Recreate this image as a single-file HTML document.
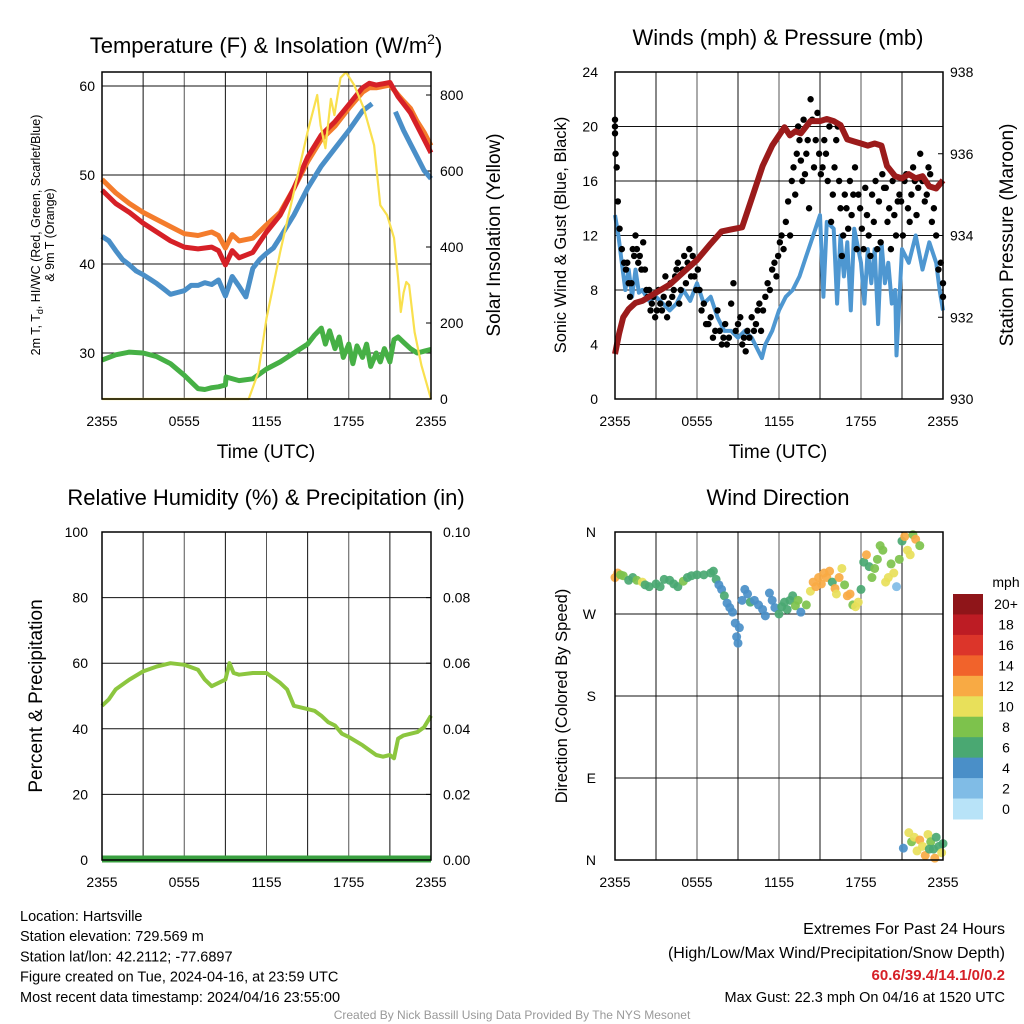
<!DOCTYPE html>
<html><head><meta charset="utf-8"><style>
body{margin:0;background:#fff}
svg{display:block;font-family:"Liberation Sans",sans-serif}
</style></head><body>
<svg id="s" width="1024" height="1024" viewBox="0 0 1024 1024"></svg>
<script>
// ---------- data ----------
const xTickLabels=["2355","0555","1155","1755","2355"];
const tempLeftTicks=[30,40,50,60];
const solarTicks=[0,200,400,600,800];
const windTicks=[0,4,8,12,16,20,24];
const presTicks=[930,932,934,936,938];
const rhTicks=[0,20,40,60,80,100];
const precipTicks=["0.00","0.02","0.04","0.06","0.08","0.10"];
const dirTicks=["N","E","S","W","N"];
const redH=[0,1,2,3,4,5,6,7,8,8.5,9,9.5,10,11,12,13,14,15,16,17,18,19,19.5,20,21,21.6,22,22.5,23,23.5,24];
const redV=[48.3,46.8,45.8,44.6,43.6,42.6,41.9,41.7,41.9,41.5,39.9,41.5,40.7,41.3,43.6,45.5,48.5,52,54.5,56,57.9,59.8,60.3,60.1,60.4,58.8,58,57,55.5,54,52.5];
const orangeV=[49.5,48,46.8,45.8,45,44.2,43.4,43.2,43.6,43.2,41.8,43.3,42.6,42.9,44.4,45.8,48.5,51.5,54,55.5,57.5,59.3,59.8,59.8,60.1,59,58.3,57.5,56,54.8,53.3];
const blueH=[0,0.5,1,1.5,2,2.5,3,3.5,4,4.5,5,5.5,6,6.5,7,7.5,8,8.5,9,9.5,10,10.5,11,11.5,12,12.5,13,14,15,16,17,18,19,19.7,20.5,21.4,22,22.5,23,23.5,24];
const blueV=[43.1,42.6,41.5,40.5,39.9,39.2,38.8,38.3,37.8,37.2,36.6,36.8,37,37.6,37.6,37.9,37.7,38.2,36.4,38.6,37.5,36.3,39.5,40.5,41.2,41.8,43,45.5,48.5,51,53,55,57.2,58,null,57.1,55,53.5,52,50.5,49.6];
const greenH=[0,1,2,3,4,5,6,7,7.5,8,8.5,9,9.05,10,11,12,13,14,15,15.5,16,16.3,16.6,17,17.3,17.6,18,18.3,18.6,19,19.3,19.6,20,20.3,20.6,21,21.3,21.6,22,22.5,23,23.5,24];
const greenV=[29.2,29.8,30.1,30,29.6,28.8,27.5,26,25.9,26.1,26.2,26.4,27.3,26.9,27.1,28.2,29,30,31,32,32.8,31,32.5,30.5,31.8,29.5,31,28.8,30.8,29.5,31,28.5,30,29,30.5,29,31.5,31.8,31.2,30.5,30,30.2,30.4];
const solarH=[0,10.7,11.4,12,13,14,15,15.7,15.95,16.3,16.7,16.95,17.4,17.8,18.4,19.1,19.85,20.3,20.8,21.3,21.6,21.8,22.0,22.2,22.4,22.8,23.3,24];
const solarV=[0,0,70,212,387,545,703,800,720,660,790,747,845,860,826,765,668,510,484,424,318,229,280,308,300,176,89,0];
const windH=[0,0.25,0.5,0.75,1,1.25,1.5,1.75,2,2.5,3,3.5,4,4.5,5,5.5,6,6.5,7,7.5,8,8.5,9,9.5,10,10.5,10.75,11,11.5,12,12.5,13,13.5,14,14.5,15,15.25,15.5,16,16.25,16.5,16.75,17,17.25,17.5,18,18.25,18.5,18.75,19,19.25,19.5,19.75,20,20.25,20.5,20.6,21,21.5,22,22.5,23,23.5,23.75,24];
const windV=[13.5,12,10,8,9.5,7.5,9.5,7.8,8,7.2,7.5,7,6.5,7,8,7.2,8.5,7,7.5,6,5,5,4.5,5,4.5,3.5,3,4,5,6.5,7.5,8,9,10.5,12,13.5,7.5,13,12.5,7,12,9,11.5,6.5,12.5,10,7,11,8.5,11,5.5,11.5,8.5,10,7,8,3.2,11,10,12,9.5,11.5,10,8,6.5];
const presH=[0,0.3,0.6,1,1.5,2,3,4,5,6,7,7.8,8.5,9.3,10,10.8,11.5,12.4,12.8,13.2,13.6,14.3,15,15.5,16,16.5,17,17.5,18,18.5,19,19.5,19.9,20.5,21,21.5,22,22.5,23,23.5,24];
const presV=[931.1,931.6,932.0,932.2,932.35,932.4,932.6,932.8,933.1,933.4,933.8,934.1,934.15,934.2,934.9,935.7,936.2,936.65,936.45,936.55,936.5,936.8,936.8,936.85,936.8,936.7,936.35,936.3,936.25,936.2,936.25,936.2,935.7,935.45,935.4,935.5,935.4,935.45,935.2,935.15,935.35];
const gustGroups=[[20,20.5,19.5,18,17,14.5],[12.5,11,10],[9.5,10,8.5,7.5,8.5],[11,10.5,12,11,10],[10.5,9.5,11.5,9.5],[8,7.5,8,6.5,7],[7.5,6,6.5,8],[7,6.5,7.5,9],[6,7,8.5,7.5],[8,9,9.5,10,7],[8,9.5,10.5,8.5],[10,11,9,10.5],[9,8,9.5,8],[6.5,7,5.5],[5.5,6,4.5],[5,6.5,5],[4,4.5,5.5,4],[4.5,7,8.5],[5,5.5,6],[4,4.5,3.5,5],[4.5,6,5],[5.5,6.5,7,5],[6.5,7.5,8.5],[8,9.5,10],[9,10.5,11.5,12],[11,13,14.5],[12,16,17,15],[18,20,19,17.5,16],[20.5,16.5,18,19,14],[22,20.5,17,19],[21,18,16.5,17],[19,18,16,20],[13,15,17,19],[20,16,14,10.5,12],[15,14,12.5,16],[13.5,15,17,11],[15,14,12.5,11],[15.5,13.5,12,10.5],[15,13,16,11],[14.5,11.5,16.5,15.5],[15.5,13,14,11],[16,13.5,12,14.5],[15,14.5,12,16],[16.5,14,13,15],[17,16,13.5,15.5],[18,16,14.5],[15,17,16.5,13],[14,12,9.5],[10,8.5,7.5]];
const rhH=[0,0.5,1,2,3,4,5,6,7,7.5,8,8.5,9,9.3,9.6,10,11,12,12.5,13,13.5,14,15,15.5,16,16.5,17,17.5,18,19,19.5,20,20.5,21,21.3,21.6,22,23,23.5,24];
const rhV=[47,49,52,55,57.5,59,60,59.5,58,55,53,54,55,60,57,56.5,57,57,55.5,54,52,47,46,45.5,44,42,41,38.5,37.5,35,33.5,32,31.5,32,31,37,38,39,40.5,44];
const dirH=[0,0.2,0.4,0.6,1,1.3,1.6,2,2.2,2.5,3,3.3,3.6,4,4.3,4.6,5,5.3,5.6,6,6.5,7,7.2,7.4,7.6,7.8,8,8.2,8.4,8.6,8.8,8.9,9,9.1,9.3,9.5,9.7,9.9,10.2,10.5,10.8,11,11.3,11.5,11.7,12,12.2,12.4,12.6,12.8,13,13.2,13.4,13.6,14,14.3,14.5,14.7,14.9,15.1,15.3,15.5,15.7,15.9,16.1,16.2,16.4,16.6,16.8,17,17.2,17.4,17.6,17.8,18,18.2,18.4,18.6,18.8,19,19.2,19.4,19.6,19.8,20,20.2,20.4,20.6,20.8,21,21.2,21.4,21.6,21.8,22,22.3,21.1,21.5,21.7,21.9,22.1,22.3,22.5,22.7,22.9,23.1,23.3,23.5,23.7,23.9,24,23.0,23.4];
const dirV=[310,315,313,312,307,310,307,305,302,300,303,300,308,307,303,300,306,310,312,313,313,315,317,308,302,297,290,282,277,272,260,245,238,255,285,297,292,283,285,280,275,268,293,285,277,270,278,283,275,285,290,279,285,272,280,295,305,300,310,303,315,310,317,305,298,292,310,320,302,290,292,280,278,283,297,327,335,322,310,320,330,345,340,305,310,325,315,300,330,350,355,340,335,357,352,345,13,30,20,25,10,22,15,5,28,20,12,25,15,8,18,12,2,0];
const dirS=[12,12,9,8,7,7,8,10,7,7,6,6,6,6,6,7,8,7,7,7,6,6,6,6,4,4,6,4,4,4,4,4,4,4,4,4,4,6,4,4,4,4,4,4,4,6,6,6,6,6,6,8,8,4,8,10,12,12,12,12,12,13,12,6,12,10,12,10,8,12,12,8,10,10,6,6,12,6,8,8,8,8,8,10,10,8,10,2,8,6,12,10,10,8,12,8,4,10,8,10,10,12,10,12,10,8,6,6,6,10,6,6,12,10];
const cbLabels=["20+","18","16","14","12","10","8","6","4","2","0"];
const cbColors=["#8f1519","#bd1c24","#dc352a","#f1632b","#f8aa44","#e8e05a","#7dc24c","#4aa872","#4a8fc8","#80bce6","#b8e3f8"];
// ---------- helpers ----------
const NS="http://www.w3.org/2000/svg",S=document.getElementById('s');
function mk(t,a,p){const e=document.createElementNS(NS,t);for(const k in a)e.setAttribute(k,a[k]);(p||S).appendChild(e);return e;}
function txt(x,y,s,size,anchor,extra){const e=mk('text',Object.assign({x:x,y:y,'font-size':size,'text-anchor':anchor||'middle',fill:'#000'},extra||{}));e.textContent=s;return e;}
function lin(d0,d1,r0,r1){return v=>r0+(v-d0)/(d1-d0)*(r1-r0);}
function pathD(H,V,fx,fy){let d='',pen=false;for(let i=0;i<H.length;i++){if(V[i]===null){pen=false;continue;}d+=(pen?'L':'M')+fx(H[i]).toFixed(1)+','+fy(V[i]).toFixed(1);pen=true;}return d;}
function panel(x0,x1,y0,y1,name){
  const g=mk('g',{});
  const fx=lin(0,24,x0,x1);
  for(let h=3;h<24;h+=3){mk('line',{x1:fx(h),x2:fx(h),y1:y0,y2:y1,stroke:h%6==0?'#555':'#111','stroke-width':1},g);}
  xTickLabels.forEach((l,i)=>{const t=txt(fx(i*6),y1+27,l,14);});
  return {g,fx};
}
function hgrid(g,x0,x1,ys){ys.forEach(y=>mk('line',{x1:x0,x2:x1,y1:y,y2:y,stroke:'#111','stroke-width':1},g));}
function frame(g,x0,x1,y0,y1){mk('rect',{x:x0,y:y0,width:x1-x0,height:y1-y0,fill:'none',stroke:'#000','stroke-width':1.5},g);}
// ---------- Panel 1 ----------
(function(){
 const x0=102,x1=431,y0=72,y1=399;
 const P=panel(x0,x1,y0,y1,'temperature-panel'),fx=P.fx,g=P.g;
 const fy=lin(30,60,353,86),fs=lin(0,800,399,95);
 hgrid(g,x0,x1,tempLeftTicks.map(fy));
 tempLeftTicks.forEach(v=>{const t=txt(x0-7,fy(v)+5,String(v),14,'end');});
 solarTicks.forEach(v=>{mk('line',{x1:x1-5,x2:x1,y1:fs(v),y2:fs(v),stroke:'#000'},g);const t=txt(x1+9,fs(v)+5,String(v),14,'start');});
 let e;
 e=mk('path',{d:pathD(redH,orangeV,fx,fy),fill:'none',stroke:'#f47c2c','stroke-width':5,'stroke-linejoin':'round'},g);
 e=mk('path',{d:pathD(redH,redV,fx,fy),fill:'none',stroke:'#d62027','stroke-width':5,'stroke-linejoin':'round'},g);
 e=mk('path',{d:pathD(blueH,blueV,fx,fy),fill:'none',stroke:'#4a8fc8','stroke-width':5,'stroke-linejoin':'round'},g);
 e=mk('path',{d:pathD(greenH,greenV,fx,fy),fill:'none',stroke:'#46b045','stroke-width':5,'stroke-linejoin':'round'},g);
 e=mk('path',{d:pathD(solarH,solarV,fx,fs),fill:'none',stroke:'#f9e04e','stroke-width':2.2,'stroke-linejoin':'round'},g);
 frame(g,x0,x1,y0,y1);
 let t=txt(266,53,'',22);t.innerHTML='Temperature (F) &amp; Insolation (W/m<tspan dy="-9" font-size="14">2</tspan><tspan dy="9">)</tspan>';
 t=txt(266,458,'Time (UTC)',19);
 t=txt(0,0,'',12.5,'middle',{transform:'translate(40,235) rotate(-90)'});t.innerHTML='2m T, T<tspan dy="3" font-size="9">d</tspan><tspan dy="-3">, HI/WC (Red, Green, Scarlet/Blue)</tspan>';
 t=txt(0,0,'& 9m T (Orange)',12.5,'middle',{transform:'translate(54,235) rotate(-90)'});
 t=txt(0,0,'Solar Insolation (Yellow)',19,'middle',{transform:'translate(500,235) rotate(-90)'});
})();
// ---------- Panel 2 ----------
(function(){
 const x0=615,x1=943,y0=72,y1=399;
 const P=panel(x0,x1,y0,y1,'wind-pressure-panel'),fx=P.fx,g=P.g;
 const fy=lin(0,24,399,72),fp=lin(930,938,399,72);
 hgrid(g,x0,x1,windTicks.map(fy));
 windTicks.forEach(v=>{const t=txt(x0-17,fy(v)+5,String(v),14,'end');});
 presTicks.forEach(v=>{mk('line',{x1:x1-5,x2:x1,y1:fp(v),y2:fp(v),stroke:'#000'},g);const t=txt(x1+7,fp(v)+5,String(v),14,'start');});
 let e=mk('path',{d:pathD(windH,windV,fx,fy),fill:'none',stroke:'#4e97d1','stroke-width':4,'stroke-linejoin':'round'},g);
 gustGroups.forEach((grp,i)=>grp.forEach((v,k)=>{
   const h=Math.min(24,Math.max(0,i*0.5-0.25+(k+0.5)*0.5/grp.length));
   const c=mk('circle',{cx:fx(h),cy:fy(v),r:3.2,fill:'#000'},g);
   
   
 }));
 e=mk('path',{d:pathD(presH,presV,fx,fp),fill:'none',stroke:'#9b1b1b','stroke-width':6,'stroke-linejoin':'round'},g);
 frame(g,x0,x1,y0,y1);
 let t=txt(778,45,'Winds (mph) & Pressure (mb)',22);
 t=txt(778,458,'Time (UTC)',19);
 t=txt(0,0,'Sonic Wind & Gust (Blue, Black)',16.5,'middle',{transform:'translate(566,235) rotate(-90)'});
 t=txt(0,0,'Station Pressure (Maroon)',19,'middle',{transform:'translate(1013,235) rotate(-90)'});
})();
// ---------- Panel 3 ----------
(function(){
 const x0=102,x1=431,y0=532,y1=860;
 const P=panel(x0,x1,y0,y1,'humidity-panel'),fx=P.fx,g=P.g;
 const fy=lin(0,100,860,532);
 hgrid(g,x0,x1,rhTicks.map(fy));
 rhTicks.forEach((v,i)=>{const t=txt(x0-14,fy(v)+5,String(v),14,'end');
   mk('line',{x1:x1-5,x2:x1,y1:fy(v),y2:fy(v),stroke:'#000'},g);
   const t2=txt(x1+12,fy(v)+5,precipTicks[i],14,'start');});
 let e=mk('path',{d:pathD(rhH,rhV,fx,fy),fill:'none',stroke:'#8cc63f','stroke-width':4,'stroke-linejoin':'round'},g);
 e=mk('line',{x1:x0,x2:x1,y1:y1-1,y2:y1-1,stroke:'#3aa040','stroke-width':7},g);
 frame(g,x0,x1,y0,y1);
 let t=txt(266,505,'Relative Humidity (%) & Precipitation (in)',22);
 t=txt(0,0,'Percent & Precipitation',19,'middle',{transform:'translate(42,696) rotate(-90)'});
})();
// ---------- Panel 4 ----------
(function(){
 const x0=615,x1=943,y0=532,y1=860;
 const P=panel(x0,x1,y0,y1,'wind-direction-panel'),fx=P.fx,g=P.g;
 const fy=lin(0,360,860,532);
 hgrid(g,x0,x1,dirTicks.map((l,i)=>fy(i*90)));
 dirTicks.forEach((l,i)=>{const t=txt(x0-19,fy(i*90)+5,l,14,'end');});
 dirH.forEach((h,i)=>{
   const idx=Math.max(0,10-Math.min(10,Math.floor(dirS[i]/2)));
   const c=mk('circle',{cx:fx(h),cy:fy(dirV[i]),r:4.5,fill:cbColors[idx],'fill-opacity':0.92},g);
   
   
 });
 frame(g,x0,x1,y0,y1);
 const cb=mk('g',{});
 const bh=(819-594)/cbColors.length;
 cbColors.forEach((c,i)=>{mk('rect',{x:953,y:594+i*bh,width:30,height:bh+0.5,fill:c},cb);
   const t=txt(1006,594+i*bh+bh/2+5,cbLabels[i],14,'middle');});
 let t=txt(1006,587,'mph',14);
 t=txt(778,505,'Wind Direction',22);
 t=txt(0,0,'Direction (Colored By Speed)',16.5,'middle',{transform:'translate(567,696) rotate(-90)'});
})();
// ---------- Footer text ----------
(function(){
 const L=["Location: Hartsville","Station elevation: 729.569 m","Station lat/lon: 42.2112; -77.6897","Figure created on Tue, 2024-04-16, at 23:59 UTC","Most recent data timestamp: 2024/04/16 23:55:00"];
 L.forEach((s,i)=>{const t=txt(20,921+i*20.2,s,14.5,'start');});
 let t=txt(1005,934,'Extremes For Past 24 Hours',16,'end');
 t=txt(1005,958,'(High/Low/Max Wind/Precipitation/Snow Depth)',16,'end');
 t=txt(1005,980,'60.6/39.4/14.1/0/0.2',15,'end',{fill:'#d62027','font-weight':'bold'});
 t=txt(1005,1002,'Max Gust: 22.3 mph On 04/16 at 1520 UTC',14.5,'end');
 t=txt(512,1019,'Created By Nick Bassill Using Data Provided By The NYS Mesonet',12,'middle',{fill:'#999'});
})();
</script>
</body></html>
